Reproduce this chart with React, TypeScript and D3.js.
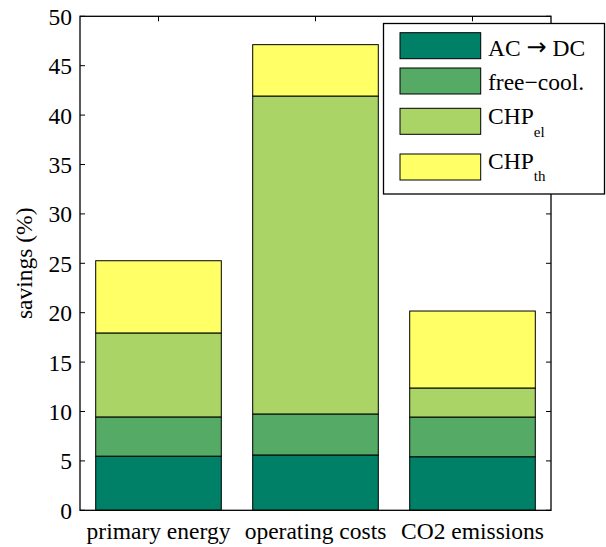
import React, { useEffect, useRef } from 'react';
import * as d3 from 'd3';

const categories = ['primary energy', 'operating costs', 'CO2 emissions'];
const seriesNames = ['AC → DC', 'free−cool.', 'CHP_el', 'CHP_th'];
// stacked segment sizes per category (% savings)
const acdc = [5.48, 5.6, 5.42];
const freeCool = [3.97, 4.15, 4.02];
const chpEl = [8.5, 32.18, 2.94];
const chpTh = [7.31, 5.2, 7.79];
const yTicks = [0, 5, 10, 15, 20, 25, 30, 35, 40, 45, 50];

const colors = ['#008066', '#55aa66', '#aad466', '#ffff66'];
const FONT = "'Liberation Serif', 'Times New Roman', serif";
const FS = 23.5;

const App: React.FC = () => {
  const ref = useRef<SVGSVGElement | null>(null);

  useEffect(() => {
    const svg = d3.select(ref.current);
    svg.selectAll('*').remove();

    const left = 80;
    const right = 551;
    const top = 16.3;
    const bottom = 510.3;

    const x = d3
      .scaleBand<string>()
      .domain(categories)
      .range([left, right])
      .paddingInner(0.2)
      .paddingOuter(0.1);

    const y = d3.scaleLinear().domain([0, 50]).range([bottom, top]);

    const rows = categories.map((c, i) => ({
      cat: c,
      s0: acdc[i],
      s1: freeCool[i],
      s2: chpEl[i],
      s3: chpTh[i],
    }));
    const layers = d3.stack<any>().keys(['s0', 's1', 's2', 's3'])(rows);

    const g = svg.append('g').style('font-family', FONT);

    // bars
    layers.forEach((layer, li) => {
      g.selectAll(null)
        .data(layer)
        .enter()
        .append('rect')
        .attr('x', (d) => x(d.data.cat)!)
        .attr('y', (d) => y(d[1]))
        .attr('width', x.bandwidth())
        .attr('height', (d) => y(d[0]) - y(d[1]))
        .attr('fill', colors[li])
        .attr('stroke', '#000')
        .attr('stroke-width', 1);
    });

    // frame
    g.append('rect')
      .attr('x', left)
      .attr('y', top)
      .attr('width', right - left)
      .attr('height', bottom - top)
      .attr('fill', 'none')
      .attr('stroke', '#000')
      .attr('stroke-width', 1.3);

    // y ticks (inward, both sides)
    yTicks.forEach((t) => {
      g.append('line')
        .attr('x1', left)
        .attr('x2', left + 5)
        .attr('y1', y(t))
        .attr('y2', y(t))
        .attr('stroke', '#000');
      g.append('line')
        .attr('x1', right)
        .attr('x2', right - 5)
        .attr('y1', y(t))
        .attr('y2', y(t))
        .attr('stroke', '#000');
      g.append('text')
        .attr('x', 72)
        .attr('y', y(t))
        .attr('dy', '0.36em')
        .attr('text-anchor', 'end')
        .style('font-size', `${FS}px`)
        .attr('fill', '#000')
        .text(String(t));
    });

    // x ticks (inward, top) and labels
    categories.forEach((c) => {
      const cx = x(c)! + x.bandwidth() / 2;
      g.append('line')
        .attr('x1', cx)
        .attr('x2', cx)
        .attr('y1', top)
        .attr('y2', top + 5)
        .attr('stroke', '#000');
      g.append('text')
        .attr('x', cx)
        .attr('y', 539)
        .attr('text-anchor', 'middle')
        .style('font-size', `${FS}px`)
        .attr('fill', '#000')
        .text(c);
    });

    // y label
    g.append('text')
      .attr('transform', `translate(32, ${(top + bottom) / 2}) rotate(-90)`)
      .attr('text-anchor', 'middle')
      .style('font-size', `${FS}px`)
      .attr('fill', '#000')
      .text('savings (%)');

    // legend
    const lg = g.append('g');
    lg.append('rect')
      .attr('x', 383.5)
      .attr('y', 23.5)
      .attr('width', 221)
      .attr('height', 170.5)
      .attr('fill', '#fff')
      .attr('stroke', '#000')
      .attr('stroke-width', 1.3);

    const swatchTop = [32.7, 68, 108.3, 154];
    const baselines = [55.7, 90, 124.3, 169];
    seriesNames.forEach((name, i) => {
      lg.append('rect')
        .attr('x', 400)
        .attr('y', swatchTop[i])
        .attr('width', 80.7)
        .attr('height', 26)
        .attr('fill', colors[i])
        .attr('stroke', '#000')
        .attr('stroke-width', 1);
      const t = lg
        .append('text')
        .attr('x', 488)
        .attr('y', baselines[i])
        .style('font-size', `${FS}px`)
        .attr('fill', '#000');
      if (name.includes('_')) {
        const [base, sub] = name.split('_');
        t.append('tspan').text(base);
        t.append('tspan').style('font-size', '15px').attr('dy', 12.4).text(sub);
      } else if (name.includes('→')) {
        const [a, b] = name.split('→');
        t.append('tspan').text(a);
        t.append('tspan')
          .style('font-family', "'DejaVu Sans'")
          .style('font-size', '24px')
          .attr('dy', -1)
          .text('→');
        t.append('tspan').attr('dy', 1).text(b);
      } else {
        t.text(name);
      }
    });
  }, []);

  return (
    <svg
      ref={ref}
      width={606}
      height={547}
      style={{ position: 'absolute', left: 0, top: 0, background: '#fff' }}
    />
  );
};

export default App;
